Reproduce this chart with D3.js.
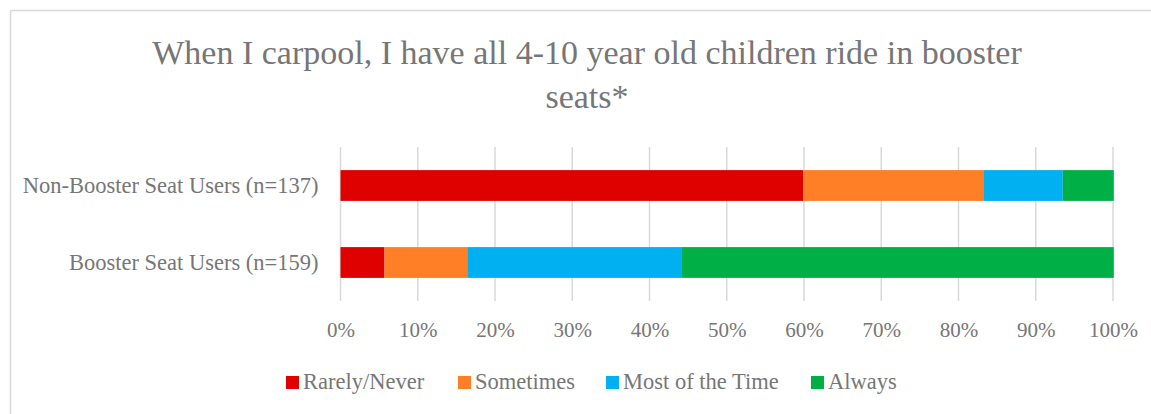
<!DOCTYPE html>
<html>
<head>
<meta charset="utf-8">
<script src="https://cdn.jsdelivr.net/npm/d3@7"></script>
<style>
	body { margin: 0; background: #fff; }
	svg { display: block; }
	text { font-family: 'Liberation Serif', 'DejaVu Serif', serif; fill: #767676; }
</style>
</head>
<body>
<div id="chart"></div>
<script>
// chart data
const categories = [ 'Non-Booster Seat Users (n=137)', 'Booster Seat Users (n=159)' ];
const seriesNames = [ 'Rarely/Never', 'Sometimes', 'Most of the Time', 'Always' ];
const rarelyNever = [ 59.9, 5.7 ];
const sometimes = [ 23.4, 10.7 ];
const mostOfTheTime = [ 10.2, 27.7 ];
const always = [ 6.6, 56.0 ];
const tickValues = [ 0, 10, 20, 30, 40, 50, 60, 70, 80, 90, 100 ];
const colors = [ '#df0000', '#fe7f25', '#00b0f0', '#00b046' ];

const width = 1151;
const height = 414;
const margin = { top: 147, right: 38, bottom: 113, left: 340.5 };

const svg = d3.select( '#chart' )
	.append( 'svg' )
	.attr( 'width', width )
	.attr( 'height', height );

// chart border
svg.append( 'rect' )
	.attr( 'x', 10.5 )
	.attr( 'y', 10.5 )
	.attr( 'width', 1160 )
	.attr( 'height', 420 )
	.attr( 'fill', 'none' )
	.attr( 'stroke', '#d9d9d9' )
	.attr( 'stroke-width', 1.5 );

// title
const title = svg.append( 'text' )
	.attr( 'text-anchor', 'middle' )
	.style( 'font-size', '34px' );
title.append( 'tspan' ).attr( 'x', 587 ).attr( 'y', 64 )
	.text( 'When I carpool, I have all 4-10 year old children ride in booster' );
title.append( 'tspan' ).attr( 'x', 587 ).attr( 'y', 108 )
	.text( 'seats*' );

const x = d3.scaleLinear()
	.domain( [ 0, 100 ] )
	.range( [ margin.left, width - margin.right ] );

const y = d3.scaleBand()
	.domain( categories )
	.range( [ margin.top, height - margin.bottom ] )
	.paddingInner( 0.6 )
	.paddingOuter( 0.3 );

// gridlines
svg.append( 'g' )
	.selectAll( 'line' )
	.data( tickValues )
	.join( 'line' )
	.attr( 'x1', ( d ) => x( d ) )
	.attr( 'x2', ( d ) => x( d ) )
	.attr( 'y1', margin.top )
	.attr( 'y2', height - margin.bottom )
	.attr( 'stroke', '#d9d9d9' )
	.attr( 'stroke-width', 1.5 );

// stack the series
const rows = categories.map( ( c, i ) => ( {
	category: c,
	'Rarely/Never': rarelyNever[ i ],
	Sometimes: sometimes[ i ],
	'Most of the Time': mostOfTheTime[ i ],
	Always: always[ i ],
} ) );
const stacked = d3.stack().keys( seriesNames )( rows );

svg.append( 'g' )
	.selectAll( 'g' )
	.data( stacked )
	.join( 'g' )
	.attr( 'fill', ( d, i ) => colors[ i ] )
	.selectAll( 'rect' )
	.data( ( d ) => d )
	.join( 'rect' )
	.attr( 'x', ( d ) => x( d[ 0 ] ) )
	.attr( 'width', ( d ) => x( d[ 1 ] ) - x( d[ 0 ] ) )
	.attr( 'y', ( d ) => y( d.data.category ) )
	.attr( 'height', y.bandwidth() );

// x axis
const xAxis = svg.append( 'g' )
	.attr( 'transform', `translate(0,${ height - margin.bottom })` )
	.call( d3.axisBottom( x ).tickValues( tickValues ).tickFormat( ( d ) => d + '%' ).tickSize( 0 ).tickPadding( 21 ) );
xAxis.select( '.domain' ).remove();
xAxis.selectAll( 'text' )
	.attr( 'fill', '#767676' )
	.style( 'font-size', '21px' )
	.style( 'font-family', "'Liberation Serif', serif" );

// y axis
const yAxis = svg.append( 'g' )
	.attr( 'transform', `translate(${ margin.left },0)` )
	.call( d3.axisLeft( y ).tickSize( 0 ).tickPadding( 22 ) );
yAxis.select( '.domain' ).remove();
yAxis.selectAll( 'text' )
	.attr( 'fill', '#767676' )
	.style( 'font-size', '22.5px' )
	.style( 'font-family', "'Liberation Serif', serif" );

// legend
const legendX = [ 286, 458, 606, 811 ];
const legend = svg.append( 'g' )
	.selectAll( 'g' )
	.data( seriesNames )
	.join( 'g' )
	.attr( 'transform', ( d, i ) => `translate(${ legendX[ i ] },376)` );
legend.append( 'rect' )
	.attr( 'width', 13 )
	.attr( 'height', 13 )
	.attr( 'fill', ( d, i ) => colors[ i ] );
legend.append( 'text' )
	.attr( 'x', 17 )
	.attr( 'y', 13 )
	.style( 'font-size', '22.5px' )
	.text( ( d ) => d );
</script>
</body>
</html>
